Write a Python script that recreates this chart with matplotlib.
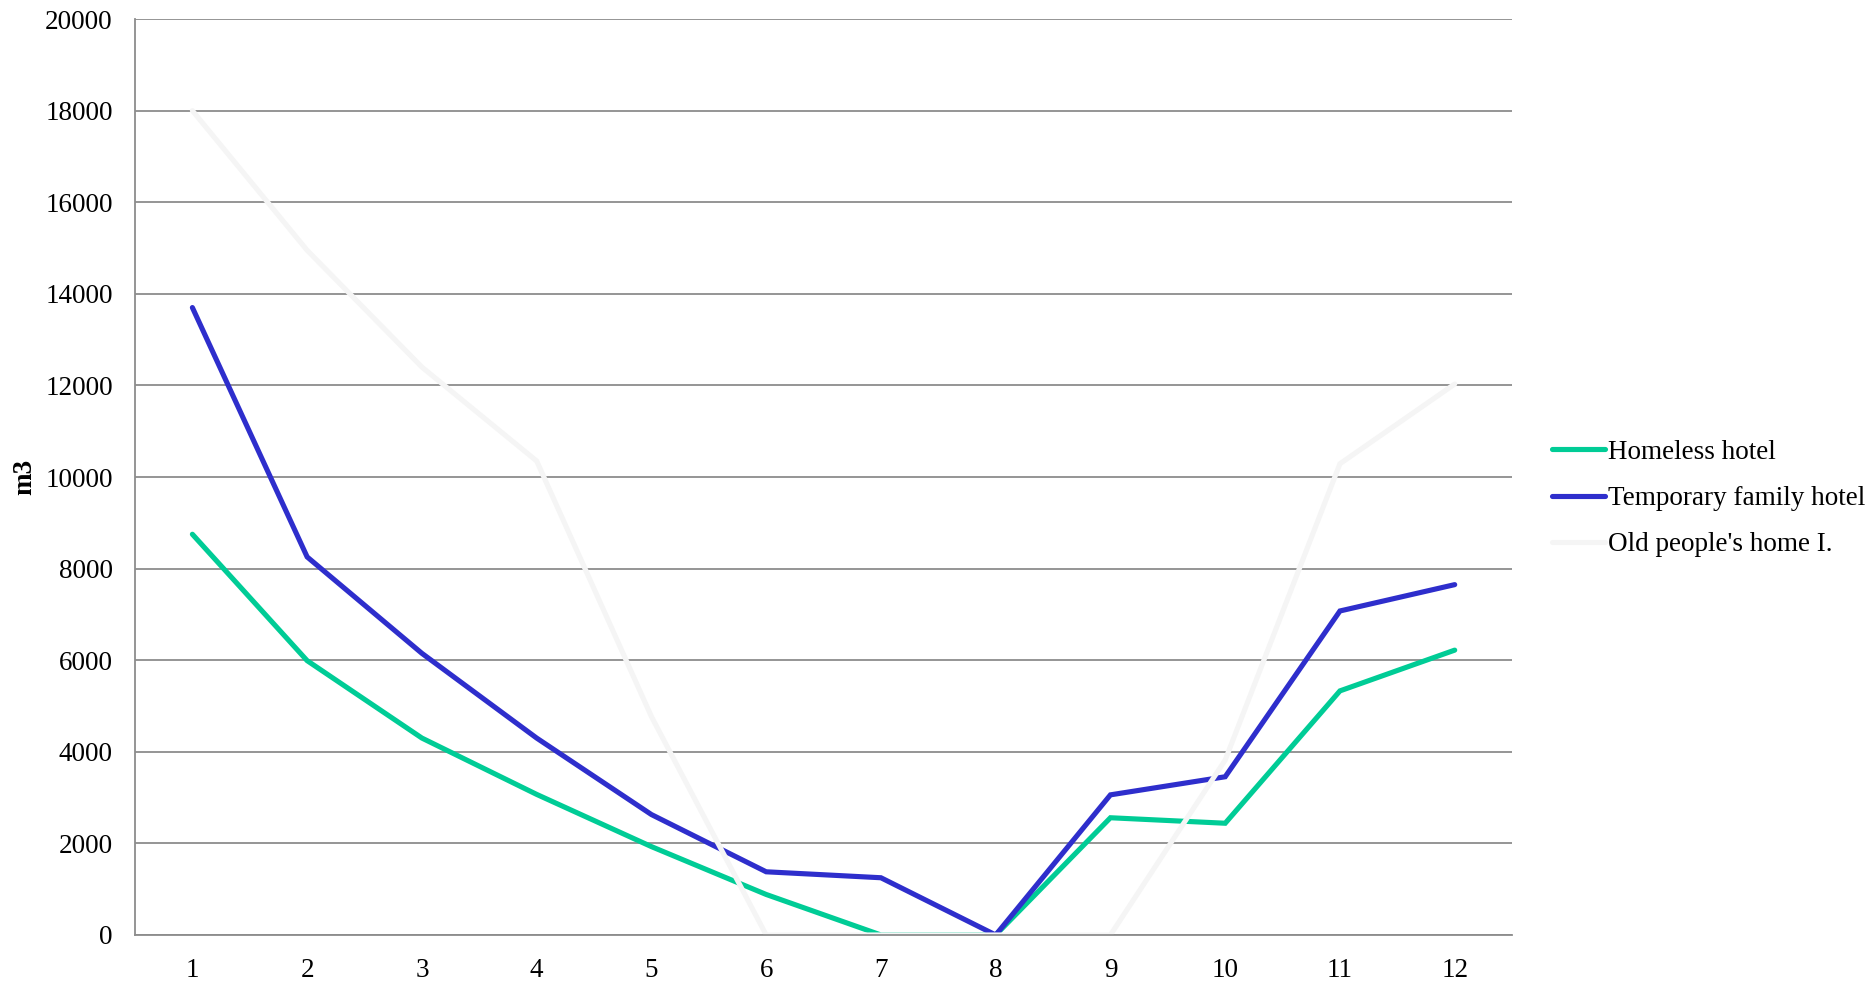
import matplotlib
matplotlib.use("Agg")
import matplotlib.pyplot as plt

months = [1, 2, 3, 4, 5, 6, 7, 8, 9, 10, 11, 12]
homeless = [8750, 5990, 4300, 3070, 1930, 885, 0, 0, 2560, 2440, 5330, 6220]
temporary = [13700, 8255, 6150, 4300, 2630, 1380, 1250, 0, 3060, 3455, 7075, 7650]
old_home = [18000, 14950, 12400, 10350, 4770, 0, 0, 0, 0, 3820, 10290, 12030]
series_names = ["Homeless hotel", "Temporary family hotel", "Old people's home I."]
colors = ["#00CC96", "#2E2ECC", "#F5F5F5"]
yticks = [0, 2000, 4000, 6000, 8000, 10000, 12000, 14000, 16000, 18000, 20000]

plt.rcParams['font.family'] = ['Liberation Serif', 'DejaVu Serif']

fig = plt.figure(figsize=(18.7, 9.81), dpi=100)
ax = fig.add_axes([0.0722, 0.0469, 0.7364, 0.9337])

for vals, name, c in zip([homeless, temporary, old_home], series_names, colors):
    ax.plot(months, vals, color=c, lw=3.7, label=name, solid_capstyle='round',
            solid_joinstyle='miter')

ax.set_xlim(0.5, 12.5)
ax.set_ylim(0, 20000)
ax.set_yticks(yticks)
ax.set_xticks(months)
ax.set_xticklabels([str(m) for m in months])
ax.yaxis.grid(True, color='#8C8C8C', lw=1.3)
ax.set_axisbelow(True)
for s in ['top', 'right']:
    ax.spines[s].set_visible(False)
for s in ['left', 'bottom']:
    ax.spines[s].set_color('#8C8C8C')
    ax.spines[s].set_linewidth(1.3)
ax.tick_params(axis='y', length=0, labelsize=19.5, colors='black', pad=16)
ax.tick_params(axis='x', length=0, labelsize=19.5, colors='black', pad=16.5)
ax.set_ylabel('m3', fontsize=19.5, fontweight='bold', labelpad=6)

leg = ax.legend(loc='center left', bbox_to_anchor=(0.830, 0.4918), bbox_transform=fig.transFigure,
                frameon=False, fontsize=19.5, handlelength=1.95, handletextpad=0.1,
                labelspacing=0.78, borderaxespad=0, borderpad=0)

fig.savefig('out.png', dpi=100, facecolor='white')
